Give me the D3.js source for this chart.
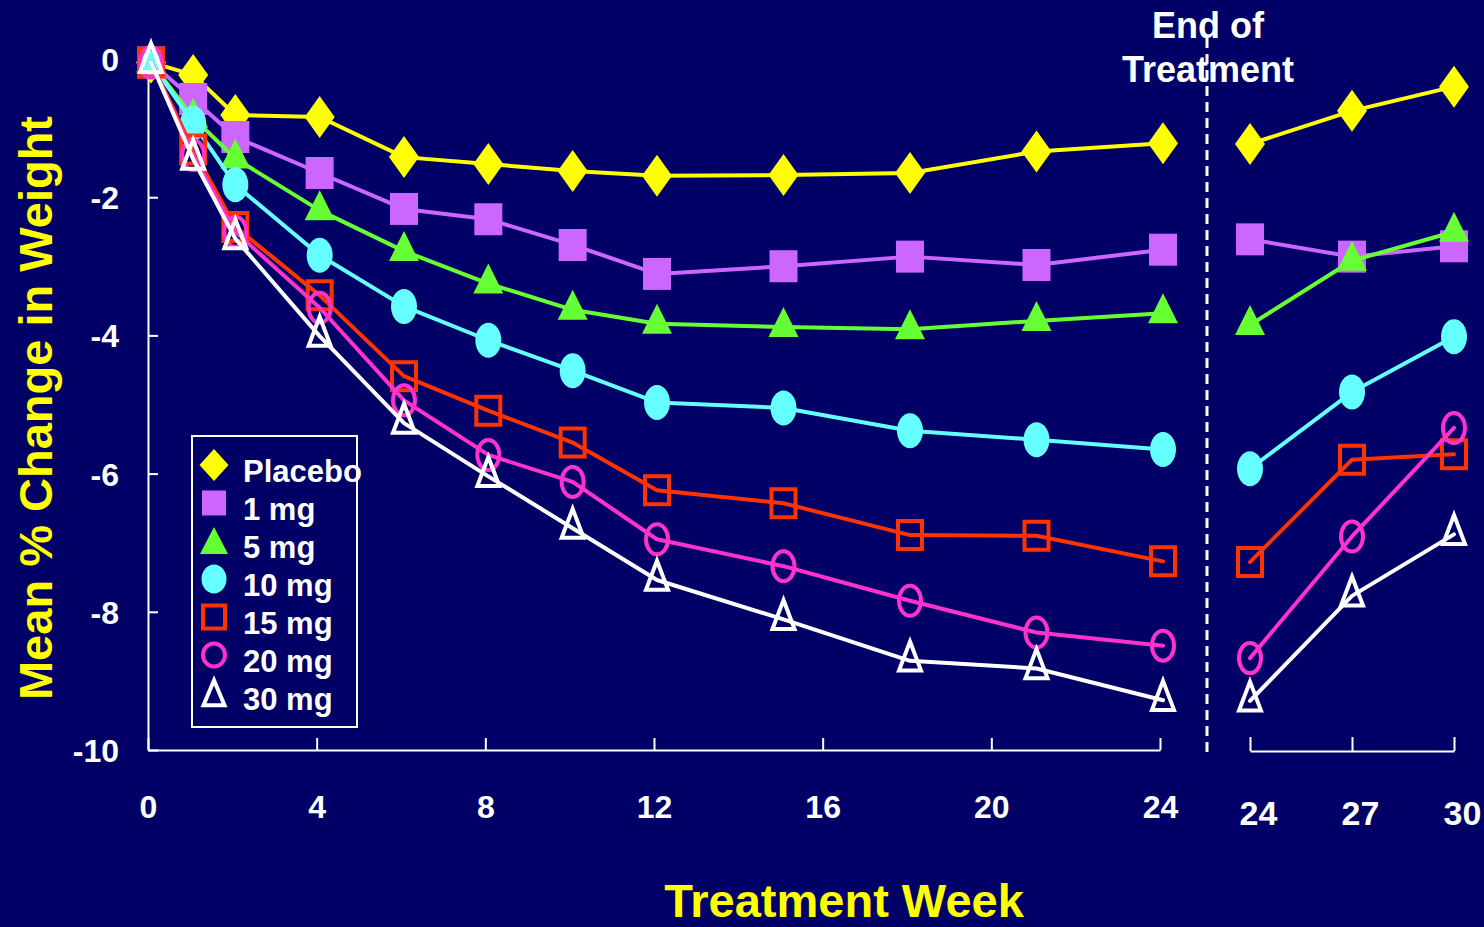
<!DOCTYPE html>
<html>
<head>
<meta charset="utf-8">
<script src="https://cdn.jsdelivr.net/npm/d3@7"></script>
<style>
  html, body { margin: 0; padding: 0; background: #000066; }
  svg { display: block; }
  text { font-family: "Liberation Sans", Arial, sans-serif; font-weight: bold; }
</style>
</head>
<body>
<svg id="chart" width="1484" height="927"></svg>
<script>
// ---------- data ----------
const weeksL = [0, 1, 2, 4, 6, 8, 10, 12, 15, 18, 21, 24];
const weeksR = [24, 27, 30];
const xTicksL = [0, 4, 8, 12, 16, 20, 24];
const xTicksR = [24, 27, 30];
const yTicks = [0, -2, -4, -6, -8, -10];
const seriesNames = ["Placebo", "1 mg", "5 mg", "10 mg", "15 mg", "20 mg", "30 mg"];

const placeboL = [-0.05, -0.23, -0.81, -0.84, -1.42, -1.52, -1.62, -1.69, -1.68, -1.65, -1.34, -1.22];
const placeboR = [-1.23, -0.75, -0.40];
const mg1L  = [-0.05, -0.58, -1.13, -1.65, -2.17, -2.32, -2.69, -3.11, -3.00, -2.86, -2.98, -2.76];
const mg1R  = [-2.61, -2.86, -2.71];
const mg5L  = [-0.05, -0.85, -1.44, -2.19, -2.78, -3.25, -3.63, -3.83, -3.88, -3.91, -3.79, -3.68];
const mg5R  = [-3.85, -2.92, -2.50];
const mg10L = [-0.05, -0.93, -1.82, -2.84, -3.58, -4.07, -4.51, -4.97, -5.05, -5.38, -5.51, -5.65];
const mg10R = [-5.93, -4.82, -4.02];
const mg15L = [-0.05, -1.31, -2.43, -3.42, -4.59, -5.09, -5.55, -6.24, -6.43, -6.89, -6.90, -7.27];
const mg15R = [-7.28, -5.80, -5.72];
const mg20L = [-0.05, -1.39, -2.50, -3.60, -4.94, -5.73, -6.12, -6.95, -7.34, -7.84, -8.30, -8.49];
const mg20R = [-8.67, -6.91, -5.34];
const mg30L = [-0.05, -1.45, -2.60, -4.01, -5.27, -6.04, -6.79, -7.54, -8.11, -8.71, -8.82, -9.28];
const mg30R = [-9.29, -7.77, -6.88];

// ---------- styles ----------
const BG = "#000066";
const styles = [
  { color: "#FFFF00", shape: "diamond",  filled: true  },
  { color: "#CC66FF", shape: "square",   filled: true  },
  { color: "#66FF33", shape: "triangle", filled: true  },
  { color: "#66FFFF", shape: "circle",   filled: true  },
  { color: "#FF3300", shape: "square",   filled: false },
  { color: "#FF33CC", shape: "circle",   filled: false },
  { color: "#FFFFFF", shape: "triangle", filled: false }
];
const leftData  = [placeboL, mg1L, mg5L, mg10L, mg15L, mg20L, mg30L];
const rightData = [placeboR, mg1R, mg5R, mg10R, mg15R, mg20R, mg30R];

function markerPath(shape, filled, big) {
  const p = d3.path();
  if (shape === "diamond") {
    const w = big ? 15 : 14.5, h = big ? 21 : 16;
    p.moveTo(0, -h); p.lineTo(w, 0); p.lineTo(0, h); p.lineTo(-w, 0); p.closePath();
  } else if (shape === "square") {
    let w, h;
    if (filled) { w = big ? 14 : 12; h = big ? 16 : 12.5; }
    else { w = big ? 12 : 11; h = big ? 14 : 11.5; }
    p.rect(-w, -h, 2 * w, 2 * h);
  } else if (shape === "triangle") {
    let w, h;
    if (filled) { w = big ? 15 : 14; h = big ? 30 : 27; }
    else { w = big ? 11 : 10.5; h = big ? 29 : 25; }
    p.moveTo(0, -2 * h / 3); p.lineTo(w, h / 3); p.lineTo(-w, h / 3); p.closePath();
  } else if (shape === "circle") {
    let rx, ry;
    if (filled) { rx = big ? 13 : 12.5; ry = big ? 17.5 : 14.5; }
    else { rx = 11; ry = big ? 15 : 11.5; }
    const k = 0.5522847498;
    p.moveTo(rx, 0);
    p.bezierCurveTo(rx, ry * k, rx * k, ry, 0, ry);
    p.bezierCurveTo(-rx * k, ry, -rx, ry * k, -rx, 0);
    p.bezierCurveTo(-rx, -ry * k, -rx * k, -ry, 0, -ry);
    p.bezierCurveTo(rx * k, -ry, rx, -ry * k, rx, 0);
    p.closePath();
  }
  return p.toString();
}

// ---------- scales ----------
const svg = d3.select("#chart");
svg.append("rect").attr("width", 1484).attr("height", 927).attr("fill", BG);

const xL = d3.scaleLinear().domain([0, 24]).range([148, 1160]);
const xR = d3.scaleLinear().domain([24, 30]).range([1250, 1454]);
const y = d3.scaleLinear().domain([0, -10]).range([59, 750]);

// ---------- axes ----------
const axisStyle = g => {
  g.selectAll("path.domain").attr("stroke", "#FFFFFF").attr("stroke-width", 2);
  g.selectAll(".tick line").attr("stroke", "#FFFFFF").attr("stroke-width", 2);
  g.selectAll(".tick text").attr("fill", "#FFFFFF")
    .style("font-family", "'Liberation Sans', Arial, sans-serif")
    .style("font-weight", "bold");
};

const gy = svg.append("g").attr("transform", "translate(148,0)")
  .call(d3.axisLeft(y).tickValues(yTicks).tickFormat(d => String(d))
    .tickSizeInner(-10).tickSizeOuter(0).tickPadding(29));
axisStyle(gy);
gy.selectAll(".tick text").style("font-size", "32px").attr("dy", "0.36em");

const gx = svg.append("g").attr("transform", "translate(0,750)")
  .call(d3.axisBottom(xL).tickValues(xTicksL).tickFormat(d => String(d))
    .tickSizeInner(-12).tickSizeOuter(0).tickPadding(45));
axisStyle(gx);
gx.selectAll(".tick text").style("font-size", "32px");

const gxr = svg.append("g").attr("transform", "translate(0,751)")
  .call(d3.axisBottom(xR).tickValues(xTicksR).tickFormat(d => String(d))
    .tickSizeInner(-14).tickSizeOuter(0).tickPadding(50));
axisStyle(gxr);
gxr.selectAll(".tick text").style("font-size", "34px").attr("dx", 8);

// ---------- axis titles ----------
svg.append("text")
  .attr("transform", "translate(52,408) rotate(-90)")
  .attr("text-anchor", "middle")
  .attr("fill", "#FFFF00")
  .style("font-size", "47px")
  .text("Mean % Change in Weight");

svg.append("text")
  .attr("x", 844).attr("y", 917)
  .attr("text-anchor", "middle")
  .attr("fill", "#FFFF00")
  .style("font-size", "47px")
  .text("Treatment Week");

// ---------- End of treatment ----------
svg.append("text").attr("x", 1208).attr("y", 38).attr("text-anchor", "middle")
  .attr("fill", "#FFFFFF").style("font-size", "36px").text("End of");
svg.append("text").attr("x", 1208).attr("y", 82).attr("text-anchor", "middle")
  .attr("fill", "#FFFFFF").style("font-size", "36px").text("Treatment");
svg.append("line")
  .attr("x1", 1207).attr("x2", 1207).attr("y1", 38).attr("y2", 752)
  .attr("stroke", "#FFFFFF").attr("stroke-width", 3)
  .attr("stroke-dasharray", "10,6");

// ---------- series ----------
const line = d3.line();
styles.forEach((s, i) => {
  const ptsL = weeksL.map((w, j) => [xL(w), y(leftData[i][j])]);
  const ptsR = weeksR.map((w, j) => [xR(w), y(rightData[i][j])]);
  [[ptsL, 3], [ptsR, 0]].forEach(([pts, off]) => {
    const g = svg.append("g").attr("transform", `translate(${off},0)`);
    g.append("path").attr("d", line(pts))
      .attr("fill", "none").attr("stroke", s.color)
      .attr("stroke-width", 4).attr("stroke-linejoin", "round").attr("stroke-linecap", "round");
    g.selectAll("path.m").data(pts).enter().append("path")
      .attr("class", "m")
      .attr("transform", d => `translate(${d[0]},${d[1]})`)
      .attr("d", markerPath(s.shape, s.filled, true))
      .attr("fill", s.filled ? s.color : "none")
      .attr("stroke", s.filled ? "none" : s.color)
      .attr("stroke-width", s.filled ? 0 : 4)
      .attr("stroke-linejoin", "miter").attr("stroke-miterlimit", 10);
  });
});

// ---------- legend ----------
const lg = svg.append("g");
lg.append("rect").attr("x", 192).attr("y", 436).attr("width", 165).attr("height", 291)
  .attr("fill", BG).attr("stroke", "#FFFFFF").attr("stroke-width", 2);
seriesNames.forEach((name, i) => {
  const s = styles[i];
  const cy = 465 + i * 38;
  lg.append("path")
    .attr("transform", `translate(214,${cy + (s.shape === "triangle" ? 4 : 0)})`)
    .attr("d", markerPath(s.shape, s.filled, false))
    .attr("fill", s.filled ? s.color : "none")
    .attr("stroke", s.filled ? "none" : s.color)
    .attr("stroke-width", s.filled ? 0 : 4)
    .attr("stroke-linejoin", "miter").attr("stroke-miterlimit", 10);
  lg.append("text").attr("x", 243).attr("y", cy + 17)
    .attr("fill", "#FFFFFF").style("font-size", "31px").text(name);
});
</script>
</body>
</html>
